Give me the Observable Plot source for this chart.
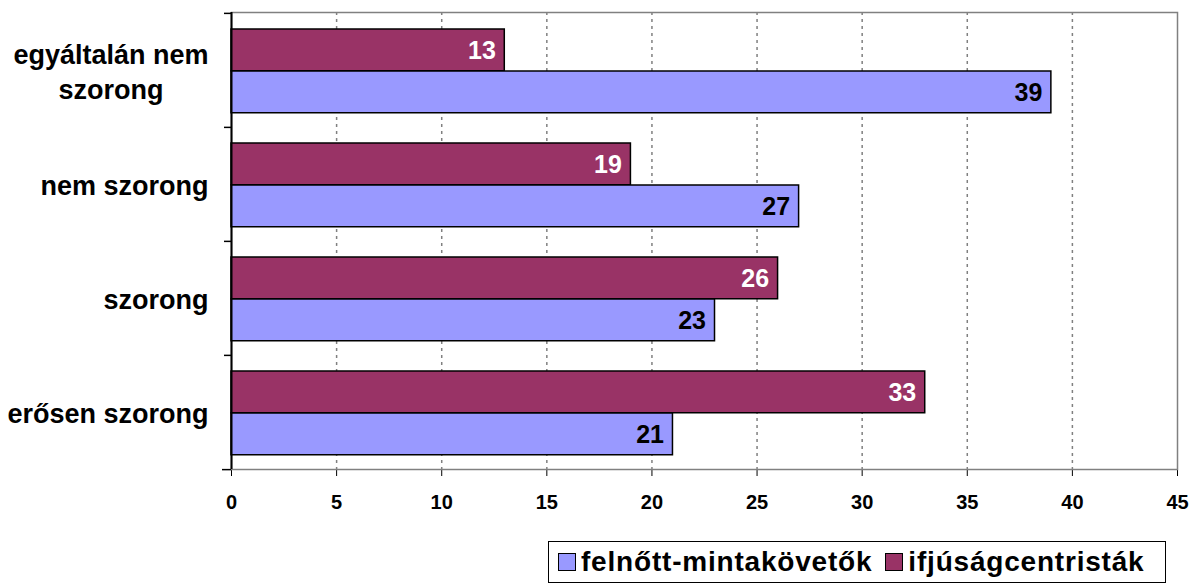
<!DOCTYPE html>
<html>
<head>
<meta charset="utf-8">
<script src="https://cdn.jsdelivr.net/npm/d3@7"></script>
<script src="https://cdn.jsdelivr.net/npm/@observablehq/plot@0.6"></script>
<style>
  body { margin: 0; background: #fff; font-family: "Liberation Sans", Arial, sans-serif; }
  #chart svg [aria-label^="x-axis"] { font-size: 20px; font-weight: bold; }
  #legend {
    margin-left: 548px; margin-top: 11px; width: 618px; height: 42px; box-sizing: border-box;
    border: 1.5px solid #000; display: flex; align-items: center; font-weight: bold;
    font-size: 28px; letter-spacing: 0.8px; color: #000; padding-left: 9px;
  }
  .sw { width: 16px; height: 16px; border: 1px solid #000; display: inline-block; margin-right: 5px; }
  .item { display: flex; align-items: center; margin-right: 13px; }
</style>
</head>
<body>
<div id="chart"></div>
<div id="legend"></div>
<script>
const categories = ["egyáltalán nem\nszorong", "nem szorong", "szorong", "erősen szorong"];
const seriesNames = ["felnőtt-mintakövetők", "ifjúságcentristák"];
const felnottValues = [39, 27, 23, 21];
const ifjusagValues = [13, 19, 26, 33];
const xTicks = [0, 5, 10, 15, 20, 25, 30, 35, 40, 45];
const seriesColors = ["#9999FF", "#993366"];

const rowsF = categories.map((c, i) => ({cat: c, value: felnottValues[i]}));
const rowsI = categories.map((c, i) => ({cat: c, value: ifjusagValues[i]}));

const W = 1194, H = 530, mt = 12, mb = 61, ml = 231, mr = 17;
const half = (H - mt - mb) / categories.length / 2;
const font = '"Liberation Sans", Arial, sans-serif';

const plot = Plot.plot({
  width: W, height: H, marginTop: mt, marginBottom: mb, marginLeft: ml, marginRight: mr,
  style: {fontFamily: font, fontSize: "20px", fontWeight: "bold", background: "white", color: "black", overflow: "visible"},
  x: {domain: [0, 45], ticks: xTicks, tickSize: 7, tickPadding: 18, line: true, label: null, tickFormat: d => String(d)},
  y: {domain: categories, axis: null, padding: 0},
  marks: [
    Plot.frame({stroke: "#808080", strokeWidth: 1.5}),
    Plot.ruleX(xTicks.slice(1, -1), {stroke: "#808080", strokeDasharray: "3,4", strokeWidth: 1.5}),
    Plot.barX(rowsI, {y: "cat", x: "value", fill: seriesColors[1], stroke: "black", strokeWidth: 1.5, insetTop: 16, insetBottom: half * 2 - 58}),
    Plot.barX(rowsF, {y: "cat", x: "value", fill: seriesColors[0], stroke: "black", strokeWidth: 1.5, insetTop: 58, insetBottom: half * 2 - 100}),
    Plot.text(rowsI, {y: "cat", x: "value", text: d => String(d.value), textAnchor: "end", dx: -9, dy: -20, fill: "white", fontSize: 25, fontWeight: "bold"}),
    Plot.text(rowsF, {y: "cat", x: "value", text: d => String(d.value), textAnchor: "end", dx: -9, dy: 22, fill: "black", fontSize: 25, fontWeight: "bold"}),
    Plot.ruleX([0], {stroke: "black", strokeWidth: 2}),
    Plot.ruleY(categories, {y: d => d, x1: 0, x2: 0, insetLeft: -7, dy: -half, stroke: "black", strokeWidth: 1.5}),
    Plot.ruleY([categories[categories.length - 1]], {y: d => d, x1: 0, x2: 0, insetLeft: -9, dy: half, stroke: "black", strokeWidth: 1.5}),
    Plot.text(categories, {y: d => d, text: d => d, frameAnchor: "left", textAnchor: "end", dx: -23, fontSize: 27, fontWeight: "bold", lineHeight: 1.27, fill: "black"})
  ]
});
document.getElementById("chart").append(plot);

// center multi-line category labels within their block
plot.querySelectorAll("text").forEach(t => {
  const ts = t.querySelectorAll("tspan");
  if (ts.length > 1) {
    const w = Math.max(...[...ts].map(s => s.getComputedTextLength()));
    t.setAttribute("text-anchor", "middle");
    ts.forEach(s => s.setAttribute("x", -w / 2));
  }
});

// legend
const legend = document.getElementById("legend");
seriesNames.forEach((name, i) => {
  const item = document.createElement("span");
  item.className = "item";
  const sw = document.createElement("span");
  sw.className = "sw";
  sw.style.background = seriesColors[i];
  item.append(sw, document.createTextNode(name));
  legend.append(item);
});
</script>
</body>
</html>
